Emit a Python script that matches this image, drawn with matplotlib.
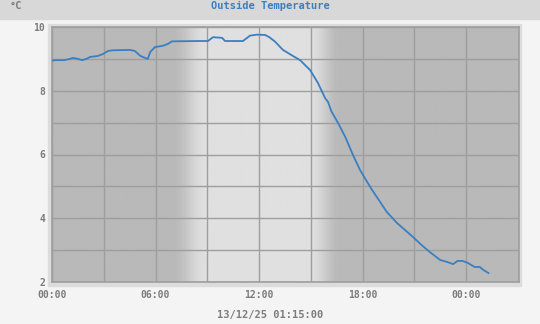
import matplotlib
matplotlib.use('Agg')
import matplotlib.pyplot as plt
import numpy as np
from matplotlib.patches import Rectangle

# 数据：时间(小时) 和 温度(°C)
hours = [0.0, 0.25, 0.7, 1.05, 1.2, 1.5, 1.75, 2.0, 2.2, 2.65, 2.95, 3.25,
         3.55, 4.5, 4.8, 5.1, 5.4, 5.55, 5.7, 5.97, 6.2, 6.43, 6.72, 6.96,
         8.5, 9.04, 9.33, 9.86, 10.03, 11.07, 11.48, 11.88, 12.35, 12.6,
         12.93, 13.39, 13.97, 14.38, 14.96, 15.42, 15.83, 16.0, 16.2,
         16.58, 17.0, 17.45, 17.86, 18.2, 18.55, 19.01, 19.4, 20.0,
         20.93, 21.4, 21.9, 22.5, 22.9, 23.25, 23.5, 23.8, 24.1, 24.5,
         24.8, 25.0, 25.3]
temps = [8.95, 8.96, 8.96, 9.0, 9.03, 9.0, 8.96, 9.0, 9.06, 9.09, 9.15, 9.25,
         9.27, 9.28, 9.25, 9.1, 9.03, 9.0, 9.22, 9.37, 9.39, 9.41, 9.47, 9.55,
         9.56, 9.56, 9.68, 9.66, 9.56, 9.56, 9.73, 9.76, 9.75, 9.68,
         9.54, 9.28, 9.09, 8.96, 8.65, 8.24, 7.77, 7.65, 7.35,
         6.99, 6.55, 5.98, 5.51, 5.2, 4.89, 4.52, 4.2, 3.85,
         3.41, 3.17, 2.94, 2.69, 2.63, 2.56, 2.66, 2.66, 2.6, 2.47,
         2.47, 2.38, 2.28]

xticks = [0, 6, 12, 18, 24]
xlabels = ['00:00', '06:00', '12:00', '18:00', '00:00']
yticks = [2, 4, 6, 8, 10]

font = 'DejaVu Sans Mono'
grey = '#7c7c7c'
blue = '#3a7fc0'

fig = plt.figure(figsize=(5.4, 3.24), dpi=100, facecolor='#f4f4f4')
W, H = 540.0, 324.0

# 顶部标题栏
fig.patches.append(Rectangle((0, 1 - 19 / H), 1, 19 / H, transform=fig.transFigure,
                             color='#d8d8d8', zorder=-10))
# 绘图区外框
fig.patches.append(Rectangle((48 / W, 1 - 286 / H), (521 - 48) / W, (286 - 24) / H,
                             transform=fig.transFigure, color='#dcdcdc', zorder=-10))

ax = fig.add_axes([52 / W, 1 - 282 / H, (519 - 52) / W, (282 - 27) / H])
ax.set_zorder(5)
xmax = 27.07
ax.set_xlim(0, xmax)
ax.set_ylim(2, 10)

# 白天/夜晚背景渐变
xs = np.linspace(0, xmax, 600)
night, day = 0.725, 0.875
def ease(t):
    t = np.clip(t, 0, 1)
    return t * t * (3 - 2 * t)
shade = night + (day - night) * (ease((xs - 7.0) / 1.9) - ease((xs - 15.0) / 1.7))
img = np.tile(shade, (2, 1))
ax.imshow(img, cmap='gray', vmin=0, vmax=1, aspect='auto',
          extent=[0, xmax, 2, 10], zorder=0, interpolation='bilinear')

ax.set_axisbelow(True)
ax.set_xticks(xticks)
ax.set_xticks(np.arange(3, 27, 3), minor=True)
ax.set_xticklabels(xlabels)
ax.set_yticks(yticks)
ax.set_yticks(np.arange(3, 10, 1), minor=True)
ax.grid(True, which='both', color='#9e9e9e', linewidth=1.0)
ax.tick_params(which='both', length=0, colors=grey, labelsize=7)
ax.tick_params(axis='x', pad=6)
ax.tick_params(axis='y', pad=5)
for lab in ax.get_xticklabels() + ax.get_yticklabels():
    lab.set_fontfamily(font)
    lab.set_fontweight('bold')
for s in ax.spines.values():
    s.set_color('#9e9e9e')
    s.set_linewidth(1.2)

ax.plot(hours, temps, color=blue, linewidth=1.3, zorder=3)

fig.text(0.5, 1 - 6 / H, 'Outside Temperature', ha='center', va='center',
         color=blue, fontsize=7.5, fontweight='bold', family=font)
fig.text(10 / W, 1 - 6 / H, '°C', ha='left', va='center',
         color=grey, fontsize=7.5, fontweight='bold', family=font)
fig.text(0.5, 1 - 315 / H, '13/12/25 01:15:00', ha='center', va='center',
         color=grey, fontsize=7.5, fontweight='bold', family=font)

fig.savefig('out.png', dpi=100, facecolor=fig.get_facecolor())
